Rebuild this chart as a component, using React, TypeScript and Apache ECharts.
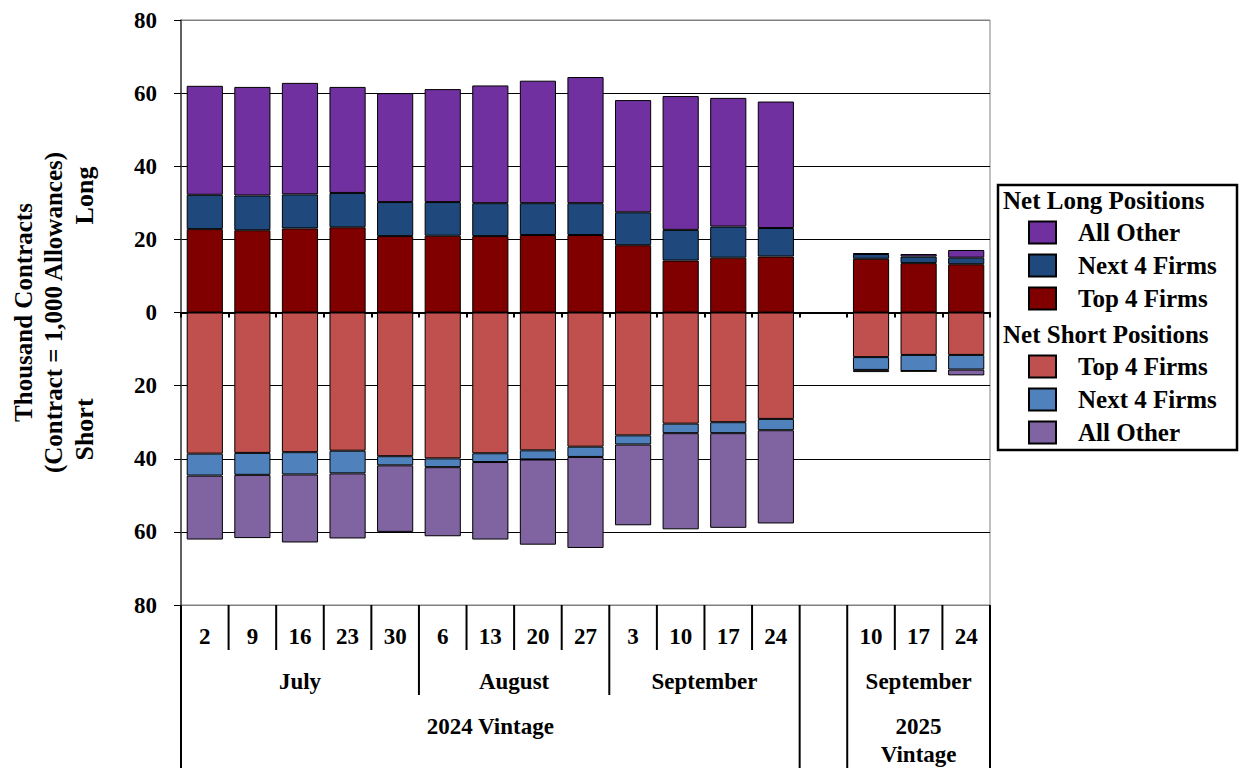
import React, { useEffect, useRef } from "react";
import * as echarts from "echarts";

const dayLabels = ["2", "9", "16", "23", "30", "6", "13", "20", "27", "3", "10", "17", "24", "", "10", "17", "24"];
const monthGroups: [string, number, number][] = [
  ["July", 0, 4],
  ["August", 5, 8],
  ["September", 9, 12],
  ["September", 14, 16],
];
const vintageGroups: [string, number, number][] = [
  ["2024 Vintage", 0, 12],
  ["2025\nVintage", 14, 16],
];

// Net long positions (thousand contracts)
const longTop4 = [22.8, 22.5, 23.0, 23.3, 20.9, 21.0, 20.9, 21.2, 21.2, 18.4, 14.2, 15.0, 15.3, null, 14.7, 13.5, 13.2];
const longNext4 = [9.4, 9.5, 9.3, 9.4, 9.3, 9.2, 9.0, 8.7, 8.7, 9.0, 8.4, 8.5, 7.8, null, 1.3, 1.8, 1.8];
const longOther = [29.8, 29.7, 30.5, 29.0, 29.8, 30.9, 32.2, 33.5, 34.5, 30.7, 36.6, 35.2, 34.6, null, 0.2, 0.7, 2.1];
// Net short positions (thousand contracts, shown below zero)
const shortTop4 = [38.6, 38.4, 38.2, 37.8, 39.3, 39.9, 38.5, 37.7, 36.7, 33.6, 30.4, 30.0, 29.1, null, 12.2, 11.6, 11.6];
const shortNext4 = [6.0, 6.0, 6.1, 6.2, 2.5, 2.4, 2.4, 2.5, 2.8, 2.5, 2.6, 3.0, 3.1, null, 3.5, 4.4, 4.0];
const shortOther = [17.5, 17.3, 18.6, 17.8, 18.2, 18.9, 21.2, 23.3, 24.9, 22.1, 26.3, 25.9, 25.5, null, 0.6, 0.1, 1.6];

const yTicks = [-80, -60, -40, -20, 0, 20, 40, 60, 80];

const FONT = '"Liberation Serif", "Times New Roman", serif';

export default function App() {
  const ref = useRef<HTMLDivElement>(null);

  useEffect(() => {
    if (!ref.current) return;
    const chart = echarts.init(ref.current, null, { renderer: "svg" });

    const neg = (arr: (number | null)[]) => arr.map((v) => (v == null ? null : -v));
    const barBase = {
      type: "bar",
      stack: "pos",
      barWidth: "76%",
      itemStyle: { borderColor: "#000", borderWidth: 1 },
    };

    const legendBase = {
      orient: "vertical",
      left: 1028,
      padding: 0,
      itemWidth: 27,
      itemHeight: 22,
      itemGap: 8,
      icon: "rect",
      selectedMode: false,
      formatter: (n: string) => n.split(": ")[1],
      textStyle: { fontFamily: FONT, fontWeight: "bold", fontSize: 25, color: "#000", padding: [0, 0, 0, 17] },
    };

    const option: any = {
      animation: false,
      backgroundColor: "#fff",
      grid: {
        left: 181,
        right: 249,
        top: 20,
        bottom: 163,
        show: true,
        borderColor: "#808080",
        borderWidth: 1,
        backgroundColor: "transparent",
        outerBoundsMode: "none",
      },
      legend: [
        { ...legendBase, top: 220, data: ["Long: All Other", "Long: Next 4 Firms", "Long: Top 4 Firms"] },
        { ...legendBase, top: 354, data: ["Short: Top 4 Firms", "Short: Next 4 Firms", "Short: All Other"] },
      ],
      xAxis: {
        type: "category",
        data: dayLabels,
        axisLine: { onZero: true, lineStyle: { color: "#000", width: 2 } },
        axisTick: { show: true, length: 5, interval: 0, lineStyle: { color: "#000", width: 2 } },
        axisLabel: { show: false },
        splitLine: { show: false },
      },
      yAxis: {
        type: "value",
        min: -80,
        max: 80,
        interval: 20,
        axisLine: { show: true, lineStyle: { color: "#404040", width: 1.5 } },
        axisTick: { show: true, length: 7, lineStyle: { color: "#000", width: 1 } },
        axisLabel: {
          margin: 24,
          formatter: (v: number) => String(Math.abs(v)),
          fontFamily: FONT,
          fontWeight: "bold",
          fontSize: 23,
          color: "#000",
        },
        splitLine: {
          show: true,
          lineStyle: {
            color: yTicks.map((t) => (Math.abs(t) === 80 ? "#808080" : "#000")),
            width: 1,
          },
        },
      },
      series: [
        { ...barBase, name: "Long: Top 4 Firms", data: longTop4, itemStyle: { ...barBase.itemStyle, color: "#800000" } },
        { ...barBase, name: "Long: Next 4 Firms", data: longNext4, itemStyle: { ...barBase.itemStyle, color: "#1F497D" } },
        { ...barBase, name: "Long: All Other", data: longOther, itemStyle: { ...barBase.itemStyle, color: "#7030A0" } },
        { ...barBase, name: "Short: Top 4 Firms", data: neg(shortTop4), itemStyle: { ...barBase.itemStyle, color: "#C0504D" } },
        { ...barBase, name: "Short: Next 4 Firms", data: neg(shortNext4), itemStyle: { ...barBase.itemStyle, color: "#4F81BD" } },
        { ...barBase, name: "Short: All Other", data: neg(shortOther), itemStyle: { ...barBase.itemStyle, color: "#8064A2" } },
      ],
    };

    chart.setOption(option);

    // Category table below the plot, positioned from the axis scales
    const xAt = (i: number) => chart.convertToPixel({ xAxisIndex: 0 }, i) as number;
    const yBottom = chart.convertToPixel({ yAxisIndex: 0 }, -80) as number;
    const slot = xAt(1) - xAt(0);
    const leftEdge = (i: number) => xAt(i) - slot / 2;
    const rightEdge = (i: number) => xAt(i) + slot / 2;
    const H = 768;

    const txt = (text: string, x: number, y: number, size = 23, lh?: number) => ({
      type: "text",
      x,
      y,
      silent: true,
      style: {
        text,
        fill: "#000",
        font: `bold ${size}px ${FONT}`,
        align: "center",
        verticalAlign: "middle",
        lineHeight: lh,
      },
    });
    const ln = (x: number, y1: number, y2: number) => ({
      type: "line",
      silent: true,
      shape: { x1: x, y1, x2: x, y2 },
      style: { stroke: "#000", lineWidth: 2 },
    });

    const els: any[] = [];
    dayLabels.forEach((d, i) => {
      if (d) els.push(txt(d, xAt(i), yBottom + 31));
    });
    monthGroups.forEach(([m, s, e]) => {
      els.push(txt(m, (leftEdge(s) + rightEdge(e)) / 2, yBottom + 76));
      for (let i = s + 1; i <= e; i++) els.push(ln(leftEdge(i), yBottom, yBottom + 45));
    });
    for (let k = 0; k < monthGroups.length - 1; k++) {
      const [, , e] = monthGroups[k];
      const [, s2] = monthGroups[k + 1];
      if (s2 === e + 1) els.push(ln(rightEdge(e), yBottom, yBottom + 90));
    }
    vintageGroups.forEach(([v, s, e]) => {
      const lines = v.split("\n").length;
      els.push(txt(v, (leftEdge(s) + rightEdge(e)) / 2, yBottom + 121 + (lines - 1) * 14, 23, 28));
      els.push(ln(leftEdge(s), yBottom, H));
      els.push(ln(rightEdge(e), yBottom, H));
    });

    // Y axis title
    const yMid = chart.convertToPixel({ yAxisIndex: 0 }, 0) as number;
    const rot = (text: string, x: number, y: number, size: number) => ({
      type: "text",
      x,
      y,
      rotation: Math.PI / 2,
      silent: true,
      style: { text, fill: "#000", font: `bold ${size}px ${FONT}`, align: "center", verticalAlign: "middle" },
    });
    els.push(rot("Thousand Contracts", 23, yMid, 25));
    els.push(rot("(Contract = 1,000 Allowances)", 53, yMid, 25));
    els.push(rot("Long", 84, chart.convertToPixel({ yAxisIndex: 0 }, 32) as number, 26));
    els.push(rot("Short", 84, chart.convertToPixel({ yAxisIndex: 0 }, -32) as number, 26));

    // Legend box and headers
    els.push({
      type: "rect",
      silent: true,
      shape: { x: 998, y: 185, width: 239, height: 265 },
      style: { fill: "none", stroke: "#000", lineWidth: 2.5 },
    });
    els.push({
      type: "text",
      x: 1003,
      y: 200,
      silent: true,
      style: { text: "Net Long Positions", fill: "#000", font: `bold 25px ${FONT}`, align: "left", verticalAlign: "middle" },
    });
    els.push({
      type: "text",
      x: 1003,
      y: 334,
      silent: true,
      style: { text: "Net Short Positions", fill: "#000", font: `bold 25px ${FONT}`, align: "left", verticalAlign: "middle" },
    });

    chart.setOption({ graphic: els });

    return () => chart.dispose();
  }, []);

  return <div ref={ref} style={{ position: "fixed", left: 0, top: 0, width: 1239, height: 768 }} />;
}
